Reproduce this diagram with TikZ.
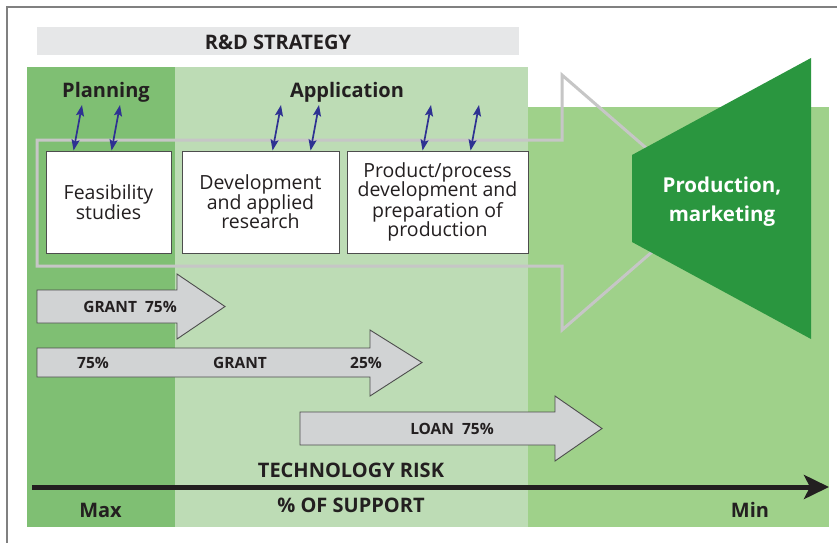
\documentclass[tikz,border=0pt]{standalone}
\usepackage{fontspec}
\setmainfont{Open Sans}
\usetikzlibrary{arrows.meta,calc}
\definecolor{framec}{HTML}{808080}
\definecolor{titlebg}{HTML}{E6E7E8}
\definecolor{planc}{HTML}{7FBF73}
\definecolor{applc}{HTML}{BDDCB5}
\definecolor{prodc}{HTML}{9FD18A}
\definecolor{trapc}{HTML}{2A963F}
\definecolor{outlc}{HTML}{C6C6C6}
\definecolor{arrfill}{HTML}{D1D3D4}
\definecolor{arrline}{HTML}{4D4D4D}
\definecolor{bluec}{HTML}{2E3192}
\definecolor{txt}{HTML}{231F20}
\begin{document}
\begin{tikzpicture}[x=1pt,y=-1pt,
  lbl/.style={text=txt,font=\bfseries\fontsize{20}{23}\selectfont,inner sep=0pt},
  boxc/.style={draw=arrline,line width=0.9pt,fill=white,align=center,text=txt,
    font=\fontsize{19.5}{19.5}\selectfont,inner sep=0pt},
  glbl/.style={text=txt,font=\bfseries\fontsize{15.5}{18}\selectfont,inner sep=0pt},
  bigarr/.style={fill=arrfill,draw=arrline,line width=0.9pt,line join=miter},
  dbl/.style={draw=bluec,line width=1.7pt,{Stealth[length=11pt,width=8pt,inset=2pt]}-{Stealth[length=11pt,width=8pt,inset=2pt]}},
  outl/.style={draw=outlc,line width=3pt,line join=miter}]
\useasboundingbox (0,0) rectangle (837,543);
\fill[white] (0,0) rectangle (837,543);
\draw[framec,line width=1.5pt] (837,7) -- (7,7) -- (7,543);
% title
\fill[titlebg] (37,27) rectangle (519,55);
\node[lbl,anchor=base] (title) at (278,50) {R\&D STRATEGY};
% backgrounds
\fill[planc] (27,67) rectangle (175,527);
\fill[applc] (175,67) rectangle (528,527);
\fill[prodc] (528,107) rectangle (829,527);
% big outline arrow
\draw[outl] (37,140) -- (562,140) -- (562,75) -- (709,202.5) -- (562,330) -- (562,266) -- (37,266) -- cycle;
% production trapezoid
\fill[trapc] (632,155) -- (811,58) -- (811,339) -- (632,242) -- cycle;
\node[white,font=\bfseries\fontsize{20.5}{29}\selectfont,align=center,inner sep=0pt] (pm) at (722,202) {Production,\\marketing};
% column labels
\node[lbl,anchor=base] (plan) at (106,97) {Planning};
\node[lbl,anchor=base] (appl) at (347,97) {Application};
% boxes
\node[boxc,minimum width=125pt,minimum height=102pt] (fs) at (108.5,202) {Feasibility\\studies};
\node[boxc,minimum width=157pt,minimum height=102pt] (dv) at (260.5,202) {Development\\and applied\\research};
\node[boxc,minimum width=181pt,minimum height=102pt] (pp) at (437.5,202) {Product/process\\development and\\preparation of\\production};
% blue double arrows
\coordinate (u1) at (82,105);
\coordinate (u2) at (120,105);
\coordinate (u3) at (281,105);
\coordinate (u4) at (319,105);
\coordinate (u5) at (431,105);
\coordinate (u6) at (479,105);
\draw[dbl] ($(fs.north west)+(28,0)$) -- (u1);
\draw[dbl] ($(fs.north west)+(66,0)$) -- (u2);
\draw[dbl] ($(dv.north west)+(91,0)$) -- (u3);
\draw[dbl] ($(dv.north west)+(129,0)$) -- (u4);
\draw[dbl] ($(pp.north west)+(76,0)$) -- (u5);
\draw[dbl] ($(pp.north west)+(124,0)$) -- (u6);
% support arrows
\draw[bigarr] (37,290) -- (177,290) -- (177,274) -- (225,306.5) -- (177,339) -- (177,323) -- (37,323) -- cycle;
\node[glbl,anchor=base] (g1) at (130,312.3) {GRANT\ \ 75\%};
\draw[bigarr] (37,348) -- (370,348) -- (370,330) -- (422,362.5) -- (370,396) -- (370,377) -- (37,377) -- cycle;
\node[glbl,anchor=base] (g2a) at (93,368.3) {75\%};
\node[glbl,anchor=base] (g2b) at (240,368.3) {GRANT};
\node[glbl,anchor=base] (g2c) at (366,368.3) {25\%};
\draw[bigarr] (300,412) -- (555,412) -- (555,396) -- (602,428.5) -- (555,461) -- (555,445) -- (300,445) -- cycle;
\node[glbl,anchor=base] (l1) at (452,434) {LOAN\ \ 75\%};
% axis
\coordinate (ax0) at (32,487);
\coordinate (ax1) at (829,487);
\draw[txt,line width=5pt,-{Stealth[length=25pt,width=24pt,inset=6pt]}] (ax0) -- (ax1);
\node[lbl,anchor=base] (risk) at (351,477.3) {TECHNOLOGY RISK};
\node[lbl,anchor=base] (supp) at (351,512) {\% OF SUPPORT};
\node[lbl,anchor=base] (mx) at (100.5,517) {Max};
\node[lbl,anchor=base] (mn) at (750,517) {Min};
\end{tikzpicture}
\end{document}
